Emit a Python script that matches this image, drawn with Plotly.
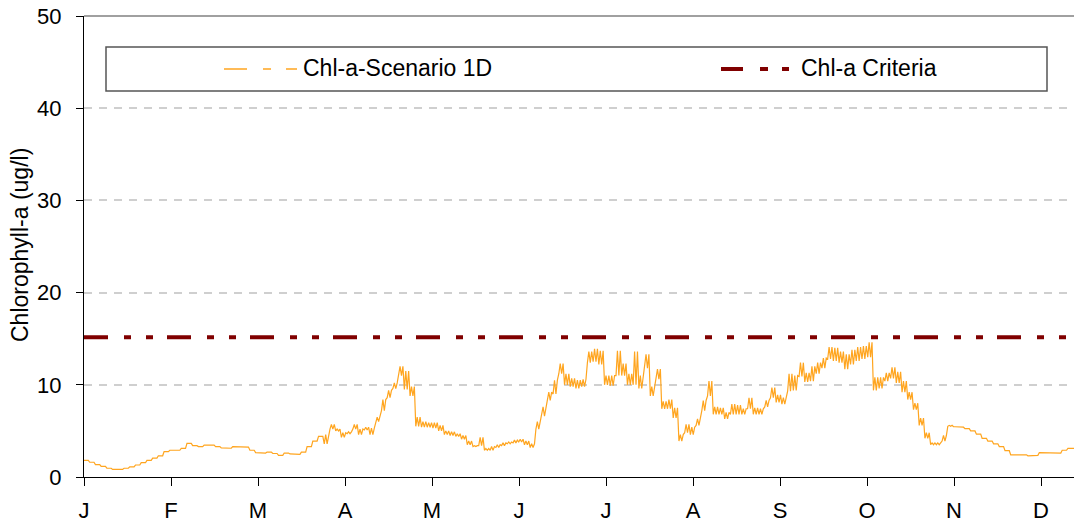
import plotly.graph_objects as go

# Day of year (every second day) for the modelled chlorophyll-a series
days = list(range(0, 348, 2))

# Daily lower / upper envelope of the Scenario 1D chlorophyll-a (ug/l)
chl_low = [
    1.8, 1.6, 1.35, 1.15, 0.95, 0.83, 0.83, 0.95, 1.1, 1.3,
    1.55, 1.8, 2.05, 2.3, 2.75, 2.9, 2.9, 3.1, 3.65, 3.4,
    3.3, 3.45, 3.45, 3.3, 3.15, 3.12, 3.3, 3.3, 3.25, 2.9,
    2.65, 2.6, 2.7, 2.55, 2.35, 2.6, 2.5, 2.45, 2.7, 3.3,
    3.9, 4.4, 3.6, 5.2, 5.0, 4.3, 4.7, 5.2, 4.6, 5.1,
    4.6, 6.0, 7.2, 8.6, 9.6, 11.0, 9.5, 8.8, 5.5, 5.4,
    5.4, 5.3, 5.0, 4.6, 4.5, 4.4, 4.1, 3.5, 3.3, 3.4,
    2.9, 2.9, 3.2, 3.4, 3.6, 3.7, 3.8, 3.5, 3.2, 5.2,
    6.6, 8.3, 9.0, 11.2, 10.0, 9.8, 9.6, 9.8, 12.4, 12.5,
    12.2, 10.0, 9.9, 11.0, 11.0, 10.0, 10.0, 9.6, 11.8, 8.8,
    10.6, 7.4, 7.4, 6.4, 3.9, 4.8, 4.6, 5.6, 7.2, 8.8,
    6.8, 6.8, 6.3, 6.8, 6.8, 6.8, 7.4, 6.8, 6.8, 7.6,
    8.6, 8.1, 7.9, 9.3, 9.4, 10.9, 10.3, 10.4, 11.2, 11.8,
    12.8, 12.6, 12.4, 11.7, 12.2, 12.6, 12.8, 13.0, 9.4, 9.6,
    10.4, 10.7, 10.2, 9.2, 8.4, 7.3, 5.6, 4.2, 3.5, 3.5,
    3.9, 5.5, 5.45, 5.4, 5.25, 5.0, 4.65, 4.2, 3.9, 3.6,
    3.3, 2.85, 2.4, 2.4, 2.4, 2.3, 2.35, 2.65, 2.6, 2.6,
    2.6, 2.9, 3.1, 3.1,
]
chl_high = [
    1.8, 1.6, 1.35, 1.15, 0.95, 0.83, 0.83, 0.95, 1.1, 1.3,
    1.55, 1.8, 2.05, 2.3, 2.75, 2.9, 2.9, 3.1, 3.65, 3.4,
    3.3, 3.45, 3.45, 3.3, 3.15, 3.12, 3.3, 3.3, 3.25, 2.9,
    2.65, 2.6, 2.7, 2.55, 2.35, 2.6, 2.5, 2.45, 2.7, 3.3,
    3.9, 4.4, 4.6, 5.7, 5.2, 4.8, 4.9, 5.7, 5.2, 5.4,
    5.3, 6.5, 8.4, 9.4, 10.2, 12.0, 11.5, 9.8, 6.5, 6.0,
    5.9, 5.9, 5.6, 5.0, 4.9, 4.7, 4.5, 3.9, 3.4, 4.3,
    3.1, 3.3, 3.5, 3.7, 3.8, 4.0, 4.1, 3.9, 3.6, 6.0,
    7.6, 9.2, 10.5, 12.3, 11.2, 10.7, 10.5, 10.6, 13.6, 13.9,
    13.7, 11.0, 11.0, 13.7, 12.3, 11.2, 13.6, 11.0, 13.3, 9.8,
    11.7, 8.2, 8.4, 7.5, 4.6, 5.7, 5.4, 6.3, 8.3, 10.4,
    7.6, 7.5, 7.0, 7.9, 7.8, 7.4, 8.6, 7.5, 7.4, 8.3,
    9.7, 8.9, 8.6, 11.2, 11.0, 12.4, 11.3, 12.0, 12.4, 12.9,
    14.1, 14.0, 13.6, 13.3, 13.8, 14.1, 14.2, 14.6, 10.8, 10.8,
    11.3, 11.9, 11.4, 10.4, 9.2, 8.0, 6.4, 4.8, 3.7, 3.7,
    4.5, 5.6, 5.45, 5.4, 5.25, 5.0, 4.65, 4.2, 3.9, 3.6,
    3.3, 2.85, 2.4, 2.4, 2.4, 2.3, 2.35, 2.65, 2.6, 2.6,
    2.6, 2.9, 3.1, 3.1,
]

# Chlorophyll-a criteria (ug/l)
criteria_days = [0, 346]
criteria = [15.15, 15.15]

month_labels = ["J", "F", "M", "A", "M", "J", "J", "A", "S", "O", "N", "D"]
series_names = ["Chl-a-Scenario 1D", "Chl-a Criteria"]

ORANGE = "#FFA51F"
DARKRED = "#800000"
FONT = "Arial, 'Liberation Sans', sans-serif"

W, H = 1074, 525
ML, MR, MT, MB = 84, 0, 16, 48
PW, PH = W - ML - MR, H - MT - MB

# Each two-day bin swings between its low and high once per day,
# which draws the intra-day variation as dense vertical strokes
x_line, y_line = [], []
for d, lo, hi in zip(days, chl_low, chl_high):
    x_line += [d, d + 0.5, d + 1, d + 1.5]
    y_line += [lo, hi, lo, hi]

month_pos = [i * 365 / 12 for i in range(len(month_labels))]

fig = go.Figure()
fig.add_trace(go.Scatter(
    x=x_line, y=y_line, mode="lines", name=series_names[0],
    line=dict(color=ORANGE, width=1.2), showlegend=False,
))
fig.add_trace(go.Scatter(
    x=criteria_days, y=criteria, mode="lines", name=series_names[1],
    line=dict(color=DARKRED, width=4, dash="24px,16px,7px,15px,7px,14px"),
    showlegend=False,
))


def px_x(p):
    return (p - ML) / PW


def px_y(p):
    return (H - MB - p) / PH


shapes = [
    # top frame line at 50
    dict(type="line", xref="paper", yref="paper", x0=0, x1=1, y0=1, y1=1,
         line=dict(color="#808080", width=1.5)),
    # legend box
    dict(type="rect", xref="paper", yref="paper",
         x0=px_x(106), x1=px_x(1047), y0=px_y(91), y1=px_y(47),
         line=dict(color="#555555", width=1.5), fillcolor="white"),
]
# legend samples: long dash, short dash, short dash
for segs, color, width in [
    ([(224, 247), (263, 271), (286, 297)], ORANGE, 1.5),
    ([(721, 743), (760, 768), (782, 789)], DARKRED, 4),
]:
    for a, b in segs:
        shapes.append(dict(type="line", xref="paper", yref="paper",
                           x0=px_x(a), x1=px_x(b), y0=px_y(69), y1=px_y(69),
                           line=dict(color=color, width=width)))

annotations = [
    dict(text=series_names[0], xref="paper", yref="paper", x=px_x(301), y=px_y(68),
         xanchor="left", yanchor="middle", showarrow=False,
         font=dict(family=FONT, size=23, color="black")),
    dict(text=series_names[1], xref="paper", yref="paper", x=px_x(799), y=px_y(68),
         xanchor="left", yanchor="middle", showarrow=False,
         font=dict(family=FONT, size=23, color="black")),
    dict(text="Chlorophyll-a (ug/l)", xref="paper", yref="paper", x=px_x(20), y=px_y(245),
         xanchor="center", yanchor="middle", textangle=-90, showarrow=False,
         font=dict(family=FONT, size=23, color="black")),
]

fig.update_layout(
    width=W, height=H,
    margin=dict(l=ML, r=MR, t=MT, b=MB, autoexpand=False),
    paper_bgcolor="white", plot_bgcolor="white",
    font=dict(family=FONT, size=22, color="black"),
    shapes=shapes, annotations=annotations,
    xaxis=dict(
        range=[0, PW / (87.0 / (365 / 12))],
        tickmode="array", tickvals=month_pos, ticktext=month_labels,
        ticks="outside", ticklen=8, tickwidth=1.3, tickcolor="black",
        showline=True, linecolor="black", linewidth=1.3,
        showgrid=False, zeroline=False, ticklabelstandoff=5,
        tickfont=dict(family=FONT, size=22, color="black"),
    ),
    yaxis=dict(
        range=[0, 50], tickmode="array", tickvals=[0, 10, 20, 30, 40, 50],
        ticks="outside", ticklen=7, tickwidth=1.3, tickcolor="black",
        showline=True, linecolor="black", linewidth=1.3,
        showgrid=True, gridcolor="#CFCFCF", gridwidth=1.5, griddash="8px,7px",
        zeroline=False, ticklabelstandoff=10,
        tickfont=dict(family=FONT, size=22, color="black"),
    ),
)

fig.write_html("out.html")
